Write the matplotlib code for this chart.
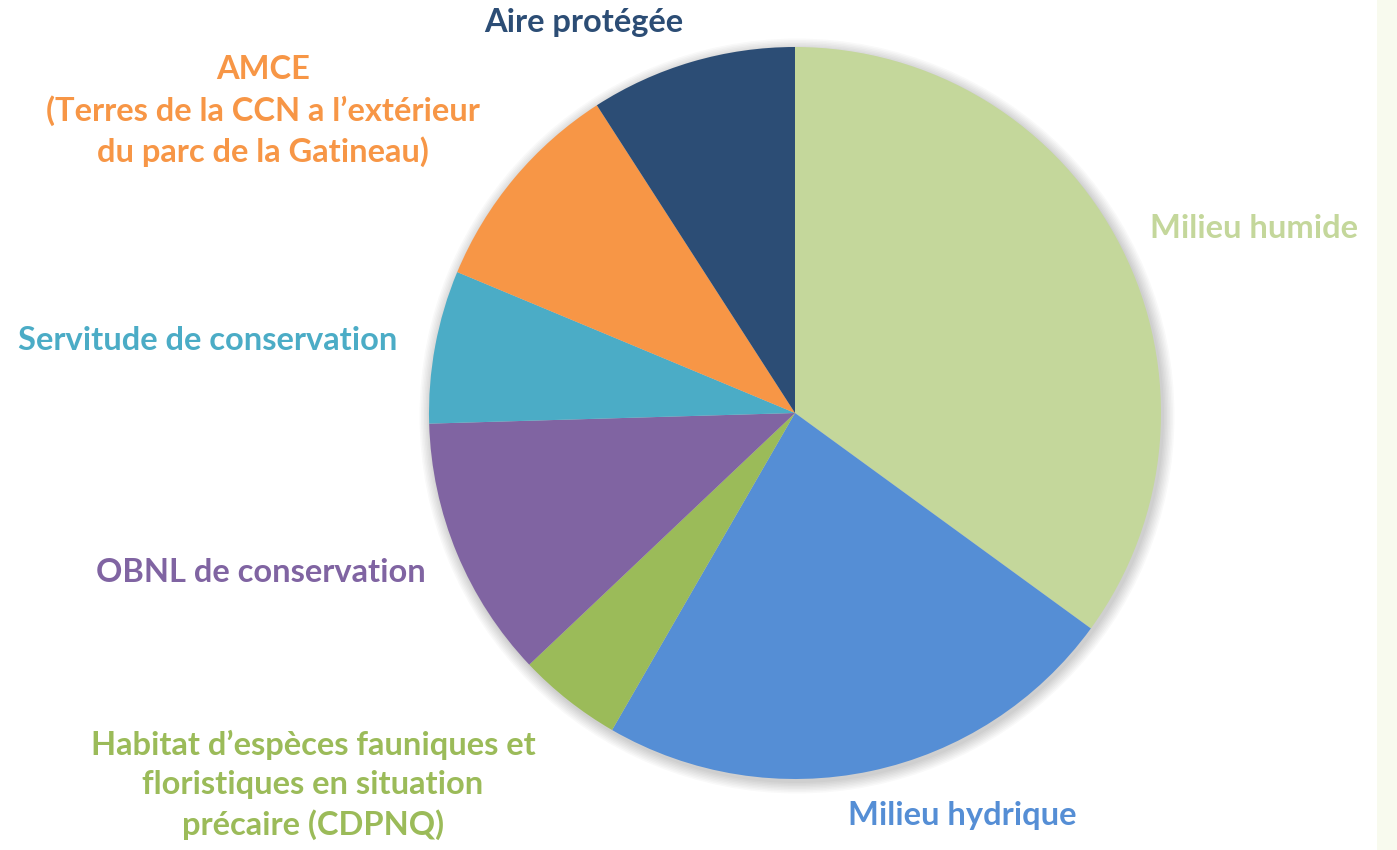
import matplotlib
matplotlib.use("Agg")
import matplotlib.pyplot as plt
from matplotlib.patches import Circle, Rectangle

categories = ["Milieu humide", "Milieu hydrique",
              "Habitat d\u2019esp\u00e8ces fauniques et\nfloristiques en situation\npr\u00e9caire (CDPNQ)",
              "OBNL de conservation", "Servitude de conservation",
              "AMCE\n(Terres de la CCN a l\u2019ext\u00e9rieur\ndu parc de la Gatineau)",
              "Aire prot\u00e9g\u00e9e"]
values = [35.0, 23.3, 4.6, 11.6, 6.75, 9.6, 9.1]
colors = ["#C4D79B", "#558ED5", "#9BBB59", "#8064A2", "#4BACC6", "#F79646", "#2C4D75"]
label_colors = ["#C4D79B", "#558ED5", "#9BBB59", "#8064A2", "#4BACC6", "#F79646", "#2C4D75"]

W, H = 1397, 850
fig = plt.figure(figsize=(W / 100, H / 100), dpi=100)
ax = fig.add_axes([0, 0, 1, 1])
ax.set_xlim(0, W)
ax.set_ylim(0, H)
ax.set_aspect("equal")
ax.axis("off")

cx, cy, r = 795, H - 413, 366

# right decorative strip
ax.add_patch(Rectangle((1377, 0), 20, H, facecolor="#F8FAEE", edgecolor="none", zorder=0))

# soft shadow
for i in range(8):
    ax.add_patch(Circle((cx + 2, cy - 3), r + 1 + i * 1.5, facecolor="#000000",
                        alpha=0.025, edgecolor="none", zorder=1))

ax.pie(values, colors=colors, startangle=90, counterclock=False,
       center=(cx, cy), radius=r, frame=True,
       wedgeprops=dict(linewidth=0, zorder=2))
ax.set_xlim(0, W)
ax.set_ylim(0, H)
ax.axis("off")

font = dict(family="Lato", fontweight="bold", fontsize=23.5)
positions = [
    (1150, 228, "left"),
    (962, 815, "center"),
    (313, 785, "center"),
    (261, 572, "center"),
    (208, 340, "center"),
    (263, 111, "center"),
    (584, 22, "center"),
]
for (x, y, ha), lab, c in zip(positions, categories, label_colors):
    ax.text(x, H - y, lab, ha=ha, va="center", color=c, linespacing=1.4,
            multialignment="center", zorder=5, **font)

fig.savefig("out.png", dpi=100)
